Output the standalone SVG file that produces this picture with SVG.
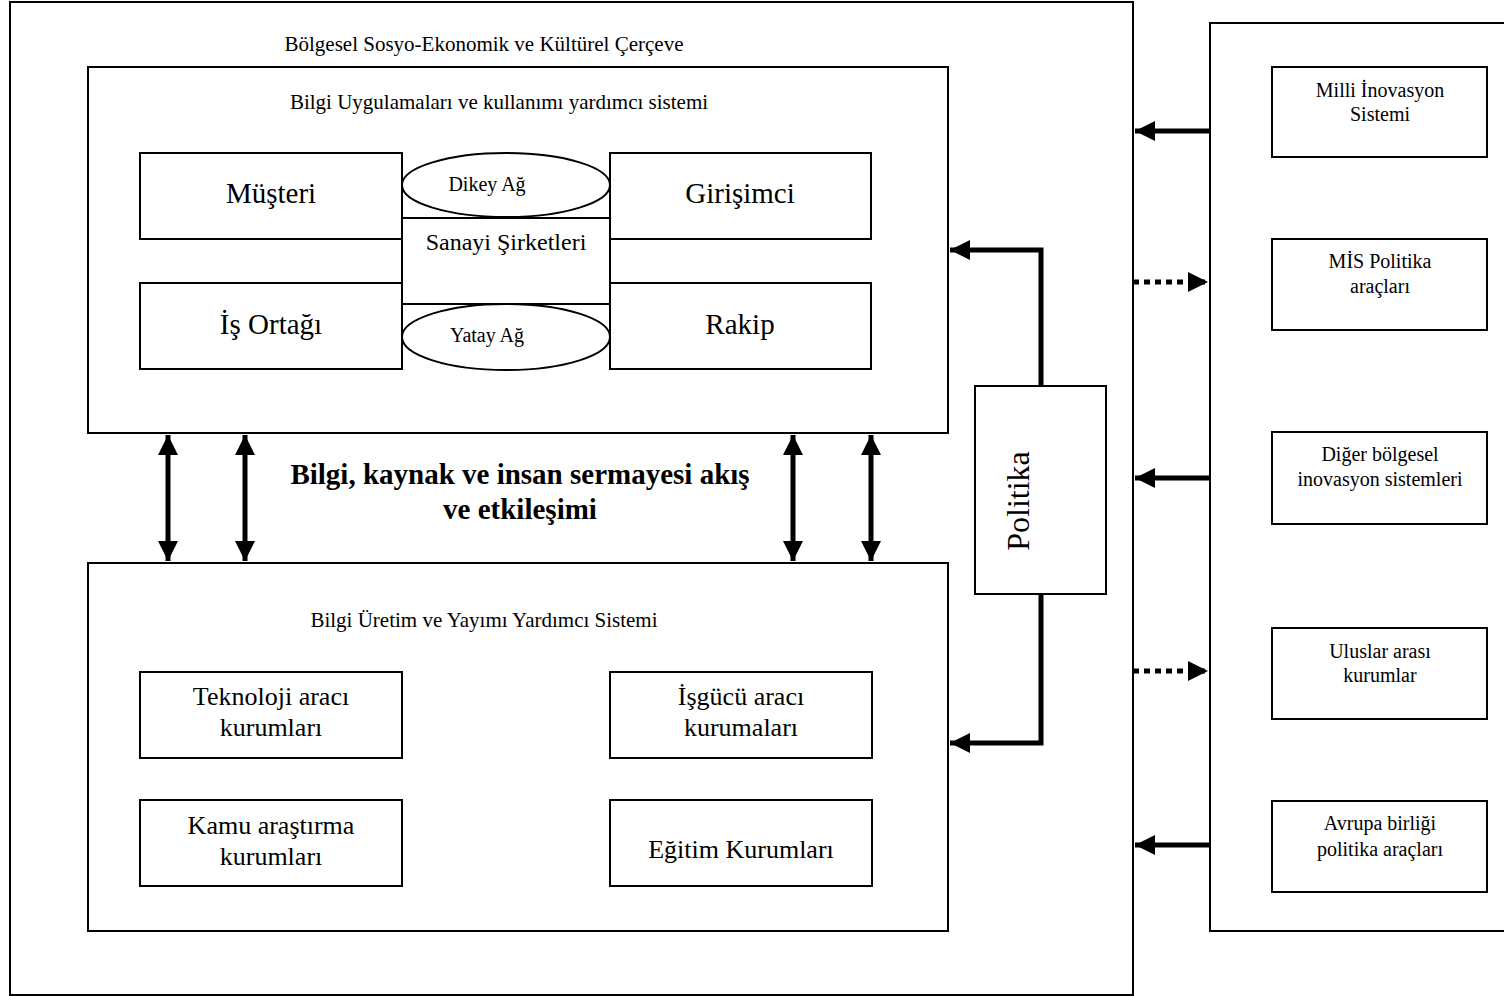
<svg xmlns="http://www.w3.org/2000/svg" width="1504" height="996" viewBox="0 0 1504 996">
  <defs>
    <marker id="head" viewBox="0 0 10 10" refX="10" refY="5" markerWidth="4" markerHeight="4" orient="auto-start-reverse" markerUnits="strokeWidth">
      <path d="M0,0 L10,5 L0,10 z" fill="#000"/>
    </marker>
    <style>
      text { font-family: "Liberation Serif", "Times New Roman", "DejaVu Serif", serif; fill: #000; text-anchor: middle; }
      .box { fill: #fff; stroke: #000; stroke-width: 2; }
      .frame { fill: none; stroke: #000; stroke-width: 2; }
      .thick { fill: none; stroke: #000; stroke-width: 5; }
      .dots { fill: none; stroke: #000; stroke-width: 5; stroke-dasharray: 6 5; }
      .cap { font-size: 21px; }
      .ext { font-size: 20px; }
      .net { font-size: 20px; }
      .mid { font-size: 24px; }
      .inst { font-size: 26px; }
      .actor { font-size: 29px; }
      .bold { font-size: 29px; font-weight: bold; }
    </style>
  </defs>
  <rect width="1504" height="996" fill="#fff"/>

  <g font-family="Liberation Serif, serif">
  <!-- outer regional frame -->
  <g id="regional-frame">
    <rect class="frame" x="10" y="2" width="1123" height="993"/>
    <text class="cap" x="484" y="51">Bölgesel Sosyo-Ekonomik ve Kültürel Çerçeve</text>
  </g>

  <!-- external context panel -->
  <g id="external-panel">
    <rect class="frame" x="1210" y="23" width="300" height="908"/>
  </g>

  <!-- knowledge application subsystem -->
  <g id="application-subsystem">
    <rect class="box" x="88" y="67" width="860" height="366"/>
    <text class="cap" x="499" y="109">Bilgi Uygulamaları ve kullanımı yardımcı sistemi</text>
  </g>
  <g id="sanayi">
    <rect class="box" x="402" y="218" width="208" height="86"/>
    <text class="mid" x="506" y="250">Sanayi Şirketleri</text>
  </g>
  <g id="musteri">
    <rect class="box" x="140" y="153" width="262" height="86"/>
    <text class="actor" x="271" y="203">Müşteri</text>
  </g>
  <g id="is-ortagi">
    <rect class="box" x="140" y="283" width="262" height="86"/>
    <text class="actor" x="271" y="334">İş Ortağı</text>
  </g>
  <g id="girisimci">
    <rect class="box" x="610" y="153" width="261" height="86"/>
    <text class="actor" x="740" y="203">Girişimci</text>
  </g>
  <g id="rakip">
    <rect class="box" x="610" y="283" width="261" height="86"/>
    <text class="actor" x="740" y="334">Rakip</text>
  </g>
  <g id="dikey-ag">
    <ellipse class="box" cx="506" cy="185" rx="104" ry="32"/>
    <text class="net" x="487" y="191">Dikey Ağ</text>
  </g>
  <g id="yatay-ag">
    <ellipse class="box" cx="506" cy="337" rx="104" ry="33"/>
    <text class="net" x="487" y="342">Yatay Ağ</text>
  </g>

  <!-- knowledge generation subsystem -->
  <g id="generation-subsystem">
    <rect class="box" x="88" y="563" width="860" height="368"/>
    <text class="cap" x="484" y="627">Bilgi Üretim ve Yayımı Yardımcı Sistemi</text>
  </g>
  <g id="teknoloji">
    <rect class="box" x="140" y="672" width="262" height="86"/>
    <text class="inst" x="271" y="705">Teknoloji aracı</text>
    <text class="inst" x="271" y="736">kurumları</text>
  </g>
  <g id="isgucu">
    <rect class="box" x="610" y="672" width="262" height="86"/>
    <text class="inst" x="741" y="705">İşgücü aracı</text>
    <text class="inst" x="741" y="736">kurumaları</text>
  </g>
  <g id="kamu">
    <rect class="box" x="140" y="800" width="262" height="86"/>
    <text class="inst" x="271" y="834">Kamu araştırma</text>
    <text class="inst" x="271" y="865">kurumları</text>
  </g>
  <g id="egitim">
    <rect class="box" x="610" y="800" width="262" height="86"/>
    <text class="inst" x="741" y="858">Eğitim Kurumları</text>
  </g>

  <!-- flow label -->
  <g id="flow-label">
    <text class="bold" x="520" y="484">Bilgi, kaynak ve insan sermayesi akış</text>
    <text class="bold" x="520" y="519">ve etkileşimi</text>
  </g>

  <!-- policy -->
  <g id="politika">
    <rect class="box" x="975" y="386" width="131" height="208"/>
    <text x="1022" y="501" font-size="32" transform="rotate(-90 1022 501)" dominant-baseline="middle">Politika</text>
  </g>

  <!-- external actors -->
  <g id="milli-inovasyon">
    <rect class="box" x="1272" y="67" width="215" height="90"/>
    <text class="ext" x="1380" y="97">Milli İnovasyon</text>
    <text class="ext" x="1380" y="121">Sistemi</text>
  </g>
  <g id="mis-politika">
    <rect class="box" x="1272" y="239" width="215" height="91"/>
    <text class="ext" x="1380" y="268">MİS Politika</text>
    <text class="ext" x="1380" y="293">araçları</text>
  </g>
  <g id="diger-bolgesel">
    <rect class="box" x="1272" y="432" width="215" height="92"/>
    <text class="ext" x="1380" y="461">Diğer bölgesel</text>
    <text class="ext" x="1380" y="486">inovasyon sistemleri</text>
  </g>
  <g id="uluslararasi">
    <rect class="box" x="1272" y="628" width="215" height="91"/>
    <text class="ext" x="1380" y="658">Uluslar arası</text>
    <text class="ext" x="1380" y="682">kurumlar</text>
  </g>
  <g id="avrupa-birligi">
    <rect class="box" x="1272" y="801" width="215" height="91"/>
    <text class="ext" x="1380" y="830">Avrupa birliği</text>
    <text class="ext" x="1380" y="856">politika araçları</text>
  </g>
  </g>

  <!-- connectors -->
  <g id="connectors">
    <!-- two-way flows between subsystems -->
    <line class="thick" x1="168" y1="435" x2="168" y2="561" marker-start="url(#head)" marker-end="url(#head)"/>
    <line class="thick" x1="245" y1="435" x2="245" y2="561" marker-start="url(#head)" marker-end="url(#head)"/>
    <line class="thick" x1="793" y1="435" x2="793" y2="561" marker-start="url(#head)" marker-end="url(#head)"/>
    <line class="thick" x1="871" y1="435" x2="871" y2="561" marker-start="url(#head)" marker-end="url(#head)"/>

    <!-- policy links -->
    <polyline class="thick" points="1041,386 1041,250 950,250" marker-end="url(#head)"/>
    <polyline class="thick" points="1041,594 1041,743 950,743" marker-end="url(#head)"/>

    <!-- external inputs -->
    <line class="thick" x1="1210" y1="131" x2="1135" y2="131" marker-end="url(#head)"/>
    <line class="dots" x1="1133" y1="282" x2="1208" y2="282" marker-end="url(#head)"/>
    <line class="thick" x1="1210" y1="478" x2="1135" y2="478" marker-end="url(#head)"/>
    <line class="dots" x1="1133" y1="671" x2="1208" y2="671" marker-end="url(#head)"/>
    <line class="thick" x1="1210" y1="845" x2="1135" y2="845" marker-end="url(#head)"/>
  </g>
</svg>
